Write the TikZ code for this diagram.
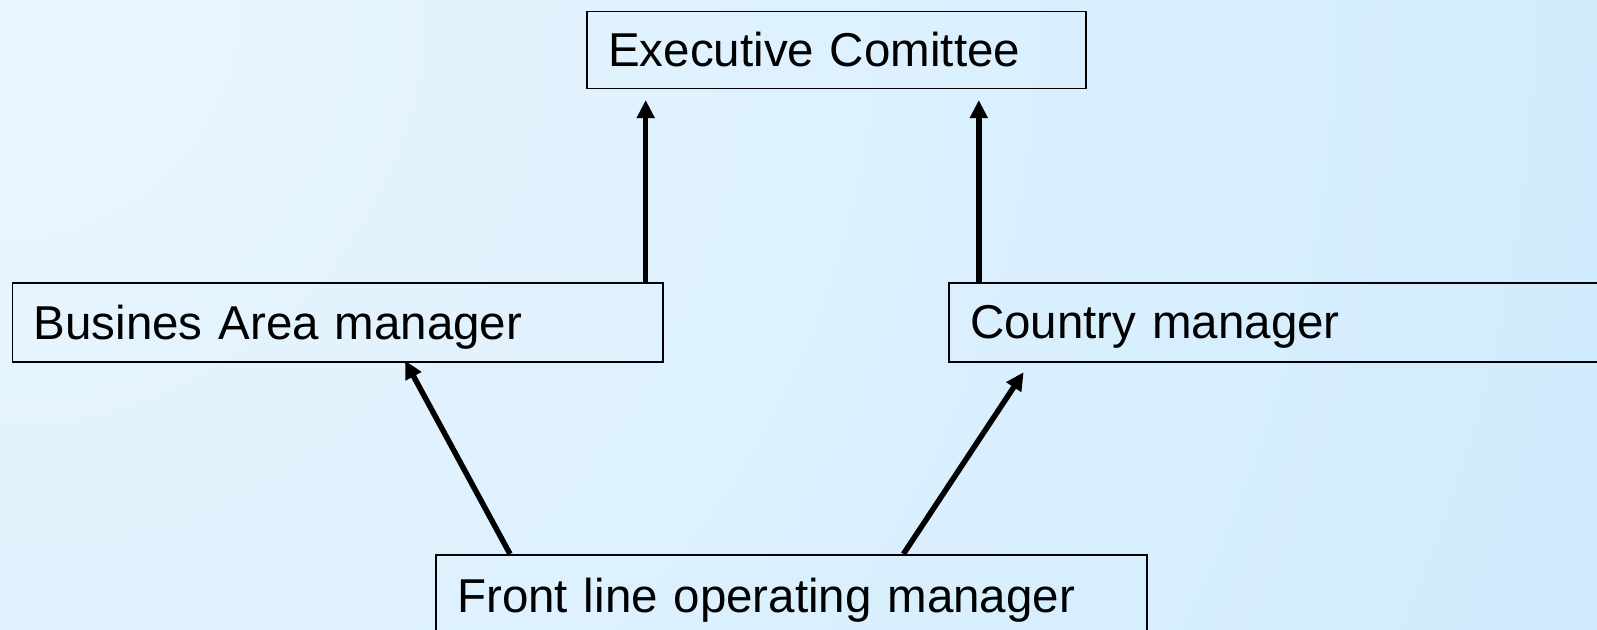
\documentclass[tikz,border=0pt]{standalone}
\usepackage{fontspec}
\setmainfont{Liberation Sans}
\usetikzlibrary{arrows.meta,calc}
\definecolor{bgA}{HTML}{EAF6FE}
\definecolor{bgD}{HTML}{CFEBFE}
\tikzset{
  box/.style={draw=black, line width=1.5pt, rectangle, anchor=north west,
    inner xsep=21.5pt, inner ysep=0pt, align=left, text depth=0pt,
    font=\fontsize{47.5pt}{57pt}\selectfont},
  arr/.style={line width=5.5pt, -{Triangle[length=18pt,width=17pt]}}
}
\begin{document}
\begin{tikzpicture}[x=1pt,y=-1pt]
\useasboundingbox (0,0) rectangle (1597,629);
\fill[bgD] (0,0) rectangle (1597,629);
\begin{scope}
\clip (0,0) rectangle (1597,629);
\shade[inner color=bgA, outer color=bgD] (0,0) circle[radius=1760];
\end{scope}
\node[box, text width=456pt, minimum height=77pt] (exec) at (586,10.5) {Executive Comittee};
\node[box, text width=607.8pt, minimum height=79pt] (bam) at (11.5,282) {Busines Area manager};
\node[box, text width=617pt, minimum height=79pt] (cm) at (948,282) {Country manager};
\node[box, text width=668pt, minimum height=82pt] (flm) at (435,554) {Front line operating manager};
\draw[arr] ($(bam.north west)+(634.2,0)$) -- ($(exec.south west)+(59.7,11)$);
\draw[arr] ($(cm.north west)+(30.8,0)$) -- ($(exec.south west)+(392.8,11)$);
\draw[arr] ($(flm.north west)+(75,0)$) -- ($(bam.south west)+(393.5,-2)$);
\draw[arr] ($(flm.north west)+(468.4,0)$) -- ($(cm.south west)+(75.6,9.7)$);
\end{tikzpicture}
\end{document}
